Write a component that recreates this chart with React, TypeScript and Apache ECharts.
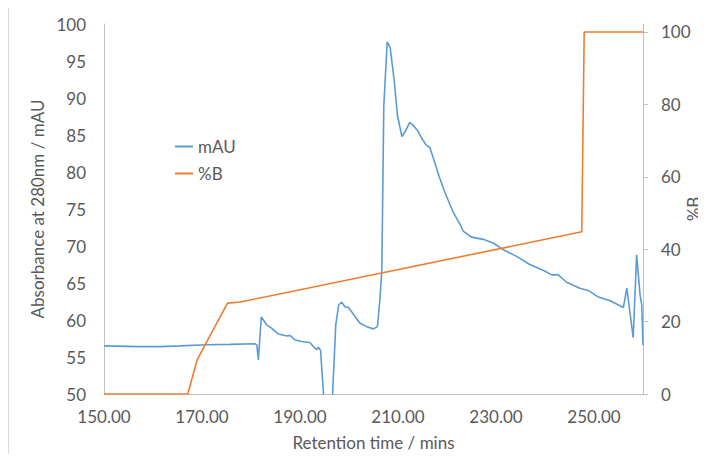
import React, { useEffect, useRef } from "react";
import * as echarts from "echarts";

// Blue trace: absorbance (mAU) vs retention time (min)
const timeA = [
  150, 157.3, 161.4, 165.5, 171.0, 175.7, 180.8, 181.2, 181.5, 182.1, 183.2, 184.2,
  185.6, 187.3, 188.0, 189.0, 190.3, 192.0, 192.9, 193.4, 193.8, 194.2, 195.3, 196.3,
  197.3, 197.9, 198.5, 199.2, 199.9, 202.2, 203.6, 205.0, 205.8, 206.3, 206.7, 207.1,
  207.8, 208.4, 209.2, 209.9, 210.8, 211.4, 212.4, 213.1, 214.1, 214.8, 215.7, 216.5,
  217.2, 218.4, 219.6, 221.3, 222.7, 223.3, 225.0, 227.4, 229.4, 231.5, 234.2, 236.9,
  239.7, 241.4, 242.7, 244.4, 247.1, 248.8, 250.9, 253.3, 256.0, 256.7, 258.0, 258.7,
  259.4, 259.75, 260
];
const mAU = [
  56.5, 56.4, 56.4, 56.5, 56.65, 56.7, 56.8, 56.6, 54.6, 60.4, 59.35, 58.9,
  58.1, 57.85, 57.9, 57.3, 57.1, 56.95, 56.3, 56.0, 56.3, 55.9, 45, 45,
  59.35, 62.06, 62.4, 61.75, 61.7, 59.6, 59.1, 58.8, 59.1, 62.7, 66.8, 88.9,
  97.6, 96.8, 92.5, 87.6, 84.8, 85.4, 86.7, 86.3, 85.5, 84.6, 83.7, 83.3,
  81.9, 79.4, 77.2, 74.5, 72.9, 72.0, 71.2, 70.9, 70.4, 69.5, 68.6, 67.5,
  66.7, 66.1, 66.1, 65.1, 64.3, 64.0, 63.1, 62.6, 61.7, 64.3, 57.6, 68.8,
  63.4, 62.0, 56.6
];

// Orange trace: %B gradient
const timeB = [150, 167.1, 169.0, 175.2, 177.8, 247.5, 248.0, 260];
const pctB = [0, 0, 9.4, 25.1, 25.4, 44.8, 100, 100];

const xTicks = [150, 170, 190, 210, 230, 250];
const yLeftTicks = [50, 55, 60, 65, 70, 75, 80, 85, 90, 95, 100];
const yRightTicks = [0, 20, 40, 60, 80, 100];

const FONT = "Lato";
const TXT = "#595959";
const AXIS = "#bfbfbf";

export default function App() {
  const ref = useRef<HTMLDivElement>(null);
  useEffect(() => {
    if (!ref.current) return;
    const chart = echarts.init(ref.current, null, { renderer: "svg" });
    chart.setOption({
      animation: false,
      backgroundColor: "#ffffff",
      textStyle: { fontFamily: FONT },
      graphic: [
        {
          type: "rect",
          shape: { x: 8.5, y: 7.5, width: 900, height: 900 },
          style: { fill: "none", stroke: "#d9d9d9", lineWidth: 1 },
          silent: true,
        },
        {
          type: "text",
          x: 693,
          y: 209,
          rotation: Math.PI / 2,
          style: {
            text: "%B",
            fill: TXT,
            font: `17px ${FONT}`,
            align: "center",
            verticalAlign: "middle",
          },
          silent: true,
        },
      ],
      grid: {
        left: 104,
        right: 63,
        top: 24,
        bottom: 68,
        containLabel: false,
        outerBoundsMode: "none",
      },
      legend: {
        orient: "vertical",
        left: 175,
        top: 138,
        padding: 0,
        itemGap: 10,
        itemWidth: 18,
        itemHeight: 2,
        icon: "rect",
        textStyle: { color: TXT, fontSize: 17, fontFamily: FONT },
        data: ["mAU", "%B"],
      },
      xAxis: {
        type: "value",
        min: 150,
        max: 260,
        interval: 10,
        name: "Retention time / mins",
        nameLocation: "middle",
        nameGap: 40,
        nameTextStyle: { color: TXT, fontSize: 17, fontFamily: FONT },
        axisLine: { show: true, lineStyle: { color: AXIS, width: 1 } },
        axisTick: { show: false },
        splitLine: { show: false },
        axisLabel: {
          customValues: xTicks,
          color: TXT,
          fontSize: 17,
          fontFamily: FONT,
          margin: 14,
          formatter: (v: number) => v.toFixed(2),
        },
      },
      yAxis: [
        {
          type: "value",
          min: 50,
          max: 100,
          interval: 5,
          position: "left",
          name: "Absorbance at 280nm / mAU",
          nameLocation: "middle",
          nameGap: 50,
          nameTextStyle: { color: TXT, fontSize: 17, fontFamily: FONT },
          axisLine: { show: true, lineStyle: { color: AXIS, width: 1 } },
          axisTick: { show: false },
          splitLine: { show: false },
          axisLabel: {
            customValues: yLeftTicks,
            color: TXT,
            fontSize: 17,
            fontFamily: FONT,
            margin: 18,
          },
        },
        {
          type: "value",
          min: 0,
          max: 102.2,
          interval: 20,
          position: "right",
          axisLine: { show: true, lineStyle: { color: AXIS, width: 1 } },
          axisTick: {
            show: true,
            customValues: yRightTicks,
            length: 5,
            lineStyle: { color: AXIS },
          },
          splitLine: { show: false },
          axisLabel: {
            customValues: yRightTicks,
            color: TXT,
            fontSize: 17,
            fontFamily: FONT,
            margin: 18,
            formatter: (v: number) => (v % 20 === 0 ? String(v) : ""),
          },
        },
      ],
      series: [
        {
          name: "mAU",
          type: "line",
          yAxisIndex: 0,
          symbol: "none",
          clip: true,
          color: "#5b9bd5",
          lineStyle: { color: "#5b9bd5", width: 1.6 },
          data: timeA.map((t, i) => [t, mAU[i]]),
        },
        {
          name: "%B",
          type: "line",
          yAxisIndex: 1,
          symbol: "none",
          clip: true,
          color: "#ed7d31",
          lineStyle: { color: "#ed7d31", width: 1.6 },
          data: timeB.map((t, i) => [t, pctB[i]]),
        },
      ],
    });
    return () => chart.dispose();
  }, []);
  return <div ref={ref} style={{ width: 706, height: 462, margin: -8 }} />;
}
